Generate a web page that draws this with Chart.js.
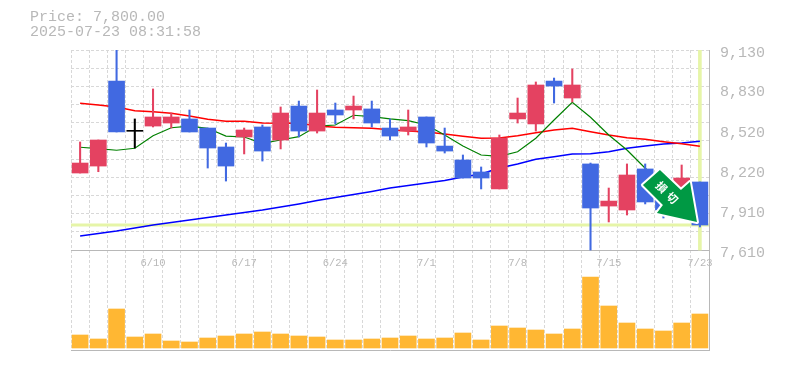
<!DOCTYPE html>
<html>
<head>
<meta charset="utf-8">
<title>Price chart</title>
<script src="https://cdn.jsdelivr.net/npm/chart.js@4"></script>
<style>
  html, body { margin: 0; padding: 0; background: #fff; }
  canvas { display: block; }
</style>
</head>
<body>
<canvas id="priceChart" width="785" height="370"></canvas>
<script>
const dates = ['6/4','6/5','6/6','6/9','6/10','6/11','6/12','6/13','6/16','6/17','6/18','6/19','6/20','6/23','6/24','6/25','6/26','6/27','6/30','7/1','7/2','7/3','7/4','7/7','7/8','7/9','7/10','7/11','7/14','7/15','7/16','7/17','7/18','7/22','7/23'];
const shownDates = ['6/10','6/17','6/24','7/1','7/8','7/15','7/23'];
const priceTicks = [7610, 7910, 8220, 8520, 8830, 9130];
const titleLines = ['Price: 7,800.00', '2025-07-23 08:31:58'];

const opens  = [8195,8248,8894,8512,8552,8575,8606,8537,8393,8469,8545,8446,8704,8514,8674,8674,8682,8537,8514,8621,8400,8294,8203,8074,8606,8568,8894,8765,8264,7944,7914,8226,8157,8081,8127];
const closes = [8271,8446,8507,8512,8621,8621,8507,8385,8248,8522,8362,8651,8514,8651,8636,8704,8575,8476,8545,8423,8362,8157,8157,8461,8651,8864,8856,8864,7929,7982,8180,7975,7914,8157,7800];
const highs  = [8431,8446,9130,8606,8834,8651,8674,8537,8423,8537,8560,8697,8742,8826,8727,8780,8742,8606,8674,8621,8537,8332,8241,8484,8765,8887,8917,8986,8271,8081,8264,8264,8203,8256,8127];
const lows   = [8195,8205,8507,8385,8545,8537,8507,8233,8134,8340,8286,8378,8469,8499,8568,8606,8545,8446,8484,8393,8347,8157,8074,8074,8575,8514,8727,8735,7610,7823,7876,7960,7853,8081,7785];

const maShort = [8391,8380,8368,8383,8479,8539,8552,8535,8476,8469,8421,8446,8471,8552,8560,8634,8623,8606,8593,8560,8484,8400,8332,8322,8357,8459,8598,8733,8619,8484,8370,8231,8127,8043,7967];
const maMid   = [8725,8712,8697,8669,8661,8649,8628,8603,8588,8588,8575,8573,8575,8552,8543,8539,8535,8524,8514,8507,8492,8474,8459,8461,8479,8501,8522,8535,8509,8484,8463,8451,8433,8418,8398];
const maLong  = [7716,7735,7754,7777,7800,7819,7838,7857,7876,7895,7914,7937,7960,7986,8009,8032,8055,8081,8100,8119,8138,8165,8188,8233,8264,8299,8319,8340,8342,8357,8383,8400,8416,8423,8436];

const volumes = [65,45,195,55,70,35,30,50,60,70,80,70,60,55,40,40,45,50,60,45,50,75,40,110,100,90,70,95,355,210,125,95,85,125,170];
const lastPrice = 7800;

const RED = '#e44261';
const BLUE = '#4169e1';
const GRID = '#d8d8d8';
const AXIS = '#b8b8b8';
const LABEL = '#b8b8b8';
const MONO = '"Liberation Mono", monospace';

const candleColors = opens.map((o, i) => {
  if (closes[i] > o) return RED;
  if (closes[i] < o) return BLUE;
  return '#000';
});

// the sell badge sits on top of the last few candles
const arrowBadge = {
  id: 'arrowBadge',
  afterDraw(chart) {
    const ctx = chart.ctx;
    const bx = chart.scales.x.getPixelForValue(32);
    const by = chart.scales.y.getPixelForValue(lastPrice);
    const shape = [[-3.5,-55],[-20.5,-40],[-0.5,-20],[-6.5,-12],[33.5,-3],[26.5,-43],[17.5,-35]];
    ctx.save();
    ctx.translate(bx, by);
    ctx.beginPath();
    shape.forEach((p, i) => i ? ctx.lineTo(p[0], p[1]) : ctx.moveTo(p[0], p[1]));
    ctx.closePath();
    ctx.lineJoin = 'round';
    ctx.lineWidth = 4;
    ctx.strokeStyle = '#fff';
    ctx.stroke();
    ctx.fillStyle = '#009944';
    ctx.fill();
    ctx.translate(3.5, -32.5);
    ctx.rotate(Math.PI / 4);
    ctx.fillStyle = '#fff';
    ctx.font = 'bold 11px "Noto Sans CJK JP"';
    ctx.textAlign = 'center';
    ctx.textBaseline = 'middle';
    ctx.fillText('損', -7.5, 0);
    ctx.fillText('切', 7.5, 0);
    ctx.restore();
  }
};

new Chart(document.getElementById('priceChart'), {
  type: 'bar',
  plugins: [arrowBadge],
  data: {
    labels: dates,
    datasets: [
      {
        type: 'line', xAxisID: 'xFull', yAxisID: 'y', order: 9,
        data: [{ x: 0, y: lastPrice }, { x: 1, y: lastPrice }],
        borderColor: '#e6f5a8', borderWidth: 3, pointRadius: 0
      },
      {
        xAxisID: 'x', yAxisID: 'y', order: 8,
        data: dates.map((d, i) => i === dates.length - 1 ? [priceTicks[0], priceTicks[5]] : null),
        backgroundColor: '#e6f5a8', barThickness: 3, grouped: false
      },
      {
        xAxisID: 'x', yAxisID: 'yVol', order: 7,
        data: volumes, backgroundColor: '#ffb733', barThickness: 16, grouped: false
      },
      {
        type: 'line', xAxisID: 'x', yAxisID: 'y', order: 6,
        data: maLong, borderColor: '#0000ff', borderWidth: 1.5, pointRadius: 0
      },
      {
        type: 'line', xAxisID: 'x', yAxisID: 'y', order: 5,
        data: maMid, borderColor: '#ff0000', borderWidth: 1.5, pointRadius: 0
      },
      {
        type: 'line', xAxisID: 'x', yAxisID: 'y', order: 4,
        data: maShort, borderColor: '#008000', borderWidth: 1.2, pointRadius: 0
      },
      {
        xAxisID: 'x', yAxisID: 'y', order: 2,
        data: lows.map((l, i) => [l, highs[i]]),
        backgroundColor: candleColors, barThickness: 1.4, grouped: false
      },
      {
        xAxisID: 'x', yAxisID: 'y', order: 1,
        data: opens.map((o, i) => [o, closes[i]]),
        backgroundColor: candleColors, barThickness: 16, minBarLength: 1, grouped: false
      }
    ]
  },
  options: {
    responsive: false,
    animation: false,
    devicePixelRatio: 1,
    layout: { padding: { left: 30, top: 10, right: 0, bottom: 20 } },
    plugins: {
      legend: { display: false },
      tooltip: { enabled: false },
      title: {
        display: true,
        text: titleLines,
        align: 'start',
        color: LABEL,
        font: { family: MONO, size: 15, weight: 'normal', lineHeight: 1 },
        padding: { top: 0, bottom: 10 }
      }
    },
    scales: {
      x: {
        type: 'category',
        position: { y: priceTicks[0] },
        offset: true,
        grid: { offset: true, color: GRID, drawTicks: false },
        border: { color: AXIS, dash: [3, 2] },
        ticks: {
          autoSkip: false,
          maxRotation: 0,
          padding: 7,
          color: LABEL,
          font: { family: MONO, size: 10.5 },
          callback(value) {
            const label = this.getLabelForValue(value);
            return shownDates.includes(label) ? label : '';
          }
        }
      },
      xBase: {
        type: 'category',
        position: 'bottom',
        offset: true,
        grid: { display: false },
        border: { color: AXIS },
        ticks: { display: false },
        afterFit(scale) { scale.height = 0; }
      },
      xFull: { type: 'linear', display: false, offset: false, min: 0, max: 1 },
      y: {
        position: 'right',
        min: 6850,
        max: 9130,
        weight: 0,
        grid: { color: GRID, drawTicks: false },
        border: { color: AXIS, dash: [3, 2] },
        ticks: { display: false },
        afterBuildTicks(scale) {
          const step = (priceTicks[5] - priceTicks[0]) / 11;
          scale.ticks = Array.from({ length: 12 }, (_, i) => ({ value: priceTicks[0] + i * step }));
        },
        afterFit(scale) { scale.width = 0; }
      },
      yPrice: {
        position: 'right',
        min: 6850,
        max: 9130,
        weight: 1,
        grid: { display: false, drawTicks: false },
        border: { display: false },
        ticks: {
          color: LABEL,
          padding: 11,
          labelOffset: 3,
          font: { family: MONO, size: 15 },
          callback: (value) => value.toLocaleString('en-US')
        },
        afterBuildTicks(scale) {
          scale.ticks = priceTicks.map((value) => ({ value }));
        },
        afterFit(scale) { scale.width = 76; }
      },
      yVol: {
        position: 'left',
        min: -10,
        max: 1490,
        grid: { display: false },
        border: { display: false },
        ticks: { display: false },
        afterFit(scale) { scale.width = 41; }
      }
    }
  }
});
</script>
</body>
</html>
